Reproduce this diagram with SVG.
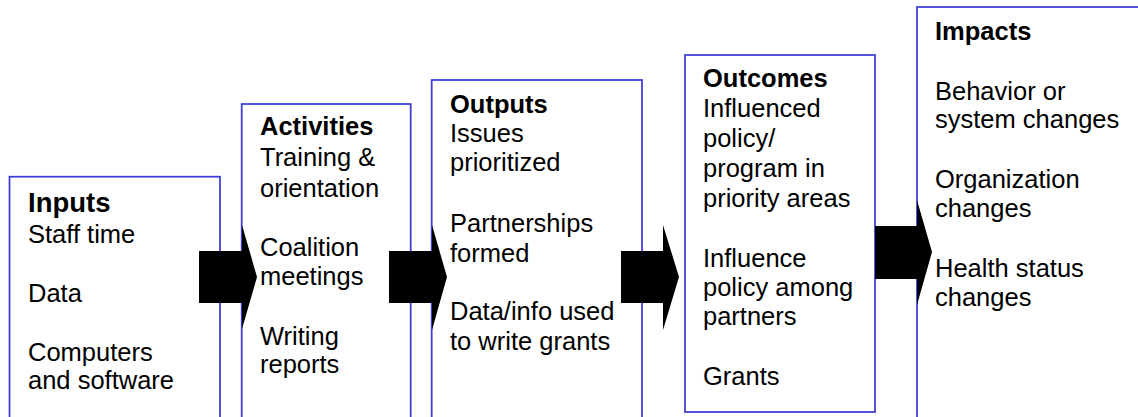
<svg xmlns="http://www.w3.org/2000/svg" width="1138" height="417" viewBox="0 0 1138 417">
  <style>
    .box { fill: #ffffff; stroke: #3c3cd6; stroke-width: 1.75; }
    .t { font-family: "Liberation Sans", Arial, sans-serif; font-size: 25.5px; fill: #000000; }
    .h { font-weight: bold; }
    .arrow { fill: #000000; stroke: none; }
  </style>
  <rect x="0" y="0" width="1138" height="417" fill="#ffffff"/>

  <!-- Stage boxes -->
  <g id="inputs">
    <rect class="box" x="9.5" y="176.7" width="210.5" height="260"/>
    <text class="t h" x="28" y="211.7" style="font-size:27.5px">Inputs</text>
    <text class="t" x="28" y="242.7">Staff time</text>
    <text class="t" x="28" y="301.7">Data</text>
    <text class="t" x="28" y="361">Computers</text>
    <text class="t" x="28" y="389">and software</text>
  </g>

  <g id="activities">
    <rect class="box" x="241.7" y="104" width="169" height="340"/>
    <text class="t h" x="260" y="135">Activities</text>
    <text class="t" x="260" y="166">Training &amp;</text>
    <text class="t" x="260" y="196.7">orientation</text>
    <text class="t" x="260" y="256">Coalition</text>
    <text class="t" x="260" y="285">meetings</text>
    <text class="t" x="260" y="345">Writing</text>
    <text class="t" x="260" y="373">reports</text>
  </g>

  <g id="outputs">
    <rect class="box" x="431.7" y="80" width="210.3" height="360"/>
    <text class="t h" x="450" y="113.3">Outputs</text>
    <text class="t" x="450" y="142">Issues</text>
    <text class="t" x="450" y="171">prioritized</text>
    <text class="t" x="450" y="231.7">Partnerships</text>
    <text class="t" x="450" y="261.7">formed</text>
    <text class="t" x="450" y="320">Data/info used</text>
    <text class="t" x="450" y="350">to write grants</text>
  </g>

  <g id="outcomes">
    <rect class="box" x="685" y="55" width="190" height="357"/>
    <text class="t h" x="703" y="87.3">Outcomes</text>
    <text class="t" x="703" y="117.3">Influenced</text>
    <text class="t" x="703" y="146.7">policy/</text>
    <text class="t" x="703" y="176.7">program in</text>
    <text class="t" x="703" y="206.7">priority areas</text>
    <text class="t" x="703" y="266.7">Influence</text>
    <text class="t" x="703" y="296">policy among</text>
    <text class="t" x="703" y="325">partners</text>
    <text class="t" x="703" y="385">Grants</text>
  </g>

  <g id="impacts">
    <rect class="box" x="917" y="7" width="260" height="440"/>
    <text class="t h" x="935" y="40">Impacts</text>
    <text class="t" x="935" y="100">Behavior or</text>
    <text class="t" x="935" y="128.3">system changes</text>
    <text class="t" x="935" y="188.3">Organization</text>
    <text class="t" x="935" y="216.7">changes</text>
    <text class="t" x="935" y="276.7">Health status</text>
    <text class="t" x="935" y="306">changes</text>
  </g>

  <!-- Block arrows between stages -->
  <g id="connectors">
    <polygon class="arrow" points="199,251 242,251 242,225 257,277 242,329 242,303 199,303"/>
    <polygon class="arrow" points="389,251 432,251 432,225 447,277 432,330 432,303 389,303"/>
    <polygon class="arrow" points="621,251 663,251 663,225 679,277 663,330 663,303 621,303"/>
    <polygon class="arrow" points="875,226 917,226 917,200 932,252 917,305 917,279 875,279"/>
  </g>
</svg>
